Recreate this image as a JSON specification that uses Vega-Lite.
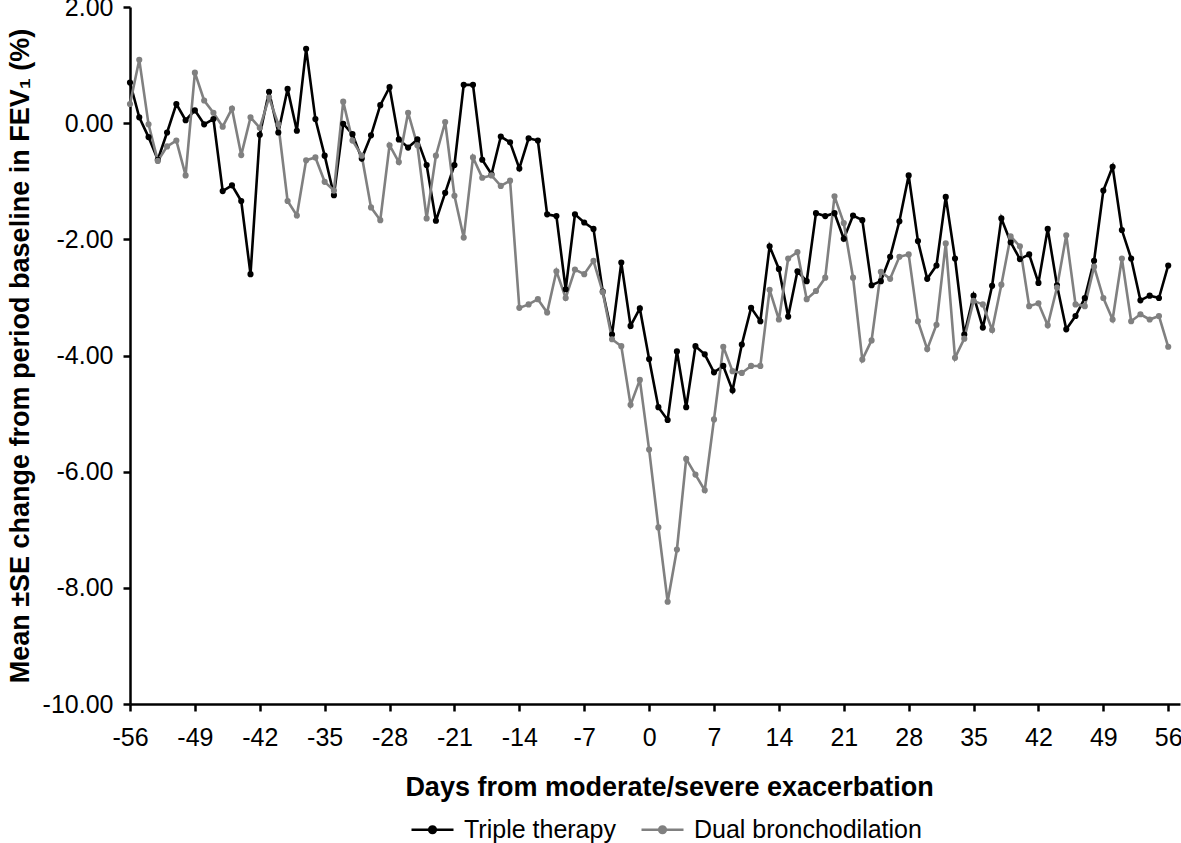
{
  "$schema": "https://vega.github.io/schema/vega-lite/v6.json",
  "width": 1050,
  "height": 697,
  "autosize": "none",
  "padding": {"left": 130, "top": 7, "right": 1, "bottom": 139},
  "background": "white",
  "data": {
    "values": [
      {"day": -56, "Triple therapy": 0.70, "Dual bronchodilation": 0.33},
      {"day": -55, "Triple therapy": 0.10, "Dual bronchodilation": 1.09},
      {"day": -54, "Triple therapy": -0.24, "Dual bronchodilation": -0.02},
      {"day": -53, "Triple therapy": -0.63, "Dual bronchodilation": -0.65},
      {"day": -52, "Triple therapy": -0.16, "Dual bronchodilation": -0.40},
      {"day": -51, "Triple therapy": 0.33, "Dual bronchodilation": -0.30},
      {"day": -50, "Triple therapy": 0.05, "Dual bronchodilation": -0.90},
      {"day": -49, "Triple therapy": 0.22, "Dual bronchodilation": 0.87},
      {"day": -48, "Triple therapy": -0.02, "Dual bronchodilation": 0.39},
      {"day": -47, "Triple therapy": 0.07, "Dual bronchodilation": 0.18},
      {"day": -46, "Triple therapy": -1.17, "Dual bronchodilation": -0.06},
      {"day": -45, "Triple therapy": -1.07, "Dual bronchodilation": 0.25},
      {"day": -44, "Triple therapy": -1.34, "Dual bronchodilation": -0.55},
      {"day": -43, "Triple therapy": -2.60, "Dual bronchodilation": 0.10},
      {"day": -42, "Triple therapy": -0.20, "Dual bronchodilation": -0.08},
      {"day": -41, "Triple therapy": 0.54, "Dual bronchodilation": 0.44},
      {"day": -40, "Triple therapy": -0.16, "Dual bronchodilation": -0.02},
      {"day": -39, "Triple therapy": 0.59, "Dual bronchodilation": -1.34},
      {"day": -38, "Triple therapy": -0.13, "Dual bronchodilation": -1.59},
      {"day": -37, "Triple therapy": 1.28, "Dual bronchodilation": -0.64},
      {"day": -36, "Triple therapy": 0.07, "Dual bronchodilation": -0.59},
      {"day": -35, "Triple therapy": -0.56, "Dual bronchodilation": -1.01},
      {"day": -34, "Triple therapy": -1.24, "Dual bronchodilation": -1.16},
      {"day": -33, "Triple therapy": -0.01, "Dual bronchodilation": 0.37},
      {"day": -32, "Triple therapy": -0.19, "Dual bronchodilation": -0.30},
      {"day": -31, "Triple therapy": -0.61, "Dual bronchodilation": -0.56},
      {"day": -30, "Triple therapy": -0.21, "Dual bronchodilation": -1.45},
      {"day": -29, "Triple therapy": 0.31, "Dual bronchodilation": -1.67},
      {"day": -28, "Triple therapy": 0.62, "Dual bronchodilation": -0.38},
      {"day": -27, "Triple therapy": -0.28, "Dual bronchodilation": -0.67},
      {"day": -26, "Triple therapy": -0.42, "Dual bronchodilation": 0.18},
      {"day": -25, "Triple therapy": -0.28, "Dual bronchodilation": -0.38},
      {"day": -24, "Triple therapy": -0.72, "Dual bronchodilation": -1.64},
      {"day": -23, "Triple therapy": -1.68, "Dual bronchodilation": -0.56},
      {"day": -22, "Triple therapy": -1.20, "Dual bronchodilation": 0.02},
      {"day": -21, "Triple therapy": -0.72, "Dual bronchodilation": -1.25},
      {"day": -20, "Triple therapy": 0.66, "Dual bronchodilation": -1.97},
      {"day": -19, "Triple therapy": 0.66, "Dual bronchodilation": -0.59},
      {"day": -18, "Triple therapy": -0.63, "Dual bronchodilation": -0.94},
      {"day": -17, "Triple therapy": -0.88, "Dual bronchodilation": -0.90},
      {"day": -16, "Triple therapy": -0.23, "Dual bronchodilation": -1.08},
      {"day": -15, "Triple therapy": -0.33, "Dual bronchodilation": -0.99},
      {"day": -14, "Triple therapy": -0.78, "Dual bronchodilation": -3.18},
      {"day": -13, "Triple therapy": -0.26, "Dual bronchodilation": -3.12},
      {"day": -12, "Triple therapy": -0.30, "Dual bronchodilation": -3.03},
      {"day": -11, "Triple therapy": -1.57, "Dual bronchodilation": -3.26},
      {"day": -10, "Triple therapy": -1.60, "Dual bronchodilation": -2.55},
      {"day": -9, "Triple therapy": -2.86, "Dual bronchodilation": -3.01},
      {"day": -8, "Triple therapy": -1.57, "Dual bronchodilation": -2.52},
      {"day": -7, "Triple therapy": -1.71, "Dual bronchodilation": -2.60},
      {"day": -6, "Triple therapy": -1.82, "Dual bronchodilation": -2.37},
      {"day": -5, "Triple therapy": -2.90, "Dual bronchodilation": -2.91},
      {"day": -4, "Triple therapy": -3.64, "Dual bronchodilation": -3.72},
      {"day": -3, "Triple therapy": -2.40, "Dual bronchodilation": -3.84},
      {"day": -2, "Triple therapy": -3.49, "Dual bronchodilation": -4.85},
      {"day": -1, "Triple therapy": -3.19, "Dual bronchodilation": -4.42},
      {"day": 0, "Triple therapy": -4.06, "Dual bronchodilation": -5.62},
      {"day": 1, "Triple therapy": -4.89, "Dual bronchodilation": -6.96},
      {"day": 2, "Triple therapy": -5.11, "Dual bronchodilation": -8.24},
      {"day": 3, "Triple therapy": -3.93, "Dual bronchodilation": -7.34},
      {"day": 4, "Triple therapy": -4.89, "Dual bronchodilation": -5.78},
      {"day": 5, "Triple therapy": -3.84, "Dual bronchodilation": -6.05},
      {"day": 6, "Triple therapy": -3.98, "Dual bronchodilation": -6.32},
      {"day": 7, "Triple therapy": -4.29, "Dual bronchodilation": -5.10},
      {"day": 8, "Triple therapy": -4.18, "Dual bronchodilation": -3.85},
      {"day": 9, "Triple therapy": -4.60, "Dual bronchodilation": -4.27},
      {"day": 10, "Triple therapy": -3.81, "Dual bronchodilation": -4.30},
      {"day": 11, "Triple therapy": -3.18, "Dual bronchodilation": -4.18},
      {"day": 12, "Triple therapy": -3.41, "Dual bronchodilation": -4.18},
      {"day": 13, "Triple therapy": -2.12, "Dual bronchodilation": -2.87},
      {"day": 14, "Triple therapy": -2.51, "Dual bronchodilation": -3.38},
      {"day": 15, "Triple therapy": -3.33, "Dual bronchodilation": -2.33},
      {"day": 16, "Triple therapy": -2.55, "Dual bronchodilation": -2.22},
      {"day": 17, "Triple therapy": -2.72, "Dual bronchodilation": -3.03},
      {"day": 18, "Triple therapy": -1.55, "Dual bronchodilation": -2.89},
      {"day": 19, "Triple therapy": -1.60, "Dual bronchodilation": -2.66},
      {"day": 20, "Triple therapy": -1.55, "Dual bronchodilation": -1.26},
      {"day": 21, "Triple therapy": -1.99, "Dual bronchodilation": -1.72},
      {"day": 22, "Triple therapy": -1.59, "Dual bronchodilation": -2.66},
      {"day": 23, "Triple therapy": -1.67, "Dual bronchodilation": -4.07},
      {"day": 24, "Triple therapy": -2.79, "Dual bronchodilation": -3.74},
      {"day": 25, "Triple therapy": -2.72, "Dual bronchodilation": -2.56},
      {"day": 26, "Triple therapy": -2.30, "Dual bronchodilation": -2.68},
      {"day": 27, "Triple therapy": -1.69, "Dual bronchodilation": -2.30},
      {"day": 28, "Triple therapy": -0.90, "Dual bronchodilation": -2.26},
      {"day": 29, "Triple therapy": -2.03, "Dual bronchodilation": -3.41},
      {"day": 30, "Triple therapy": -2.68, "Dual bronchodilation": -3.89},
      {"day": 31, "Triple therapy": -2.45, "Dual bronchodilation": -3.47},
      {"day": 32, "Triple therapy": -1.27, "Dual bronchodilation": -2.07},
      {"day": 33, "Triple therapy": -2.33, "Dual bronchodilation": -4.04},
      {"day": 34, "Triple therapy": -3.64, "Dual bronchodilation": -3.71},
      {"day": 35, "Triple therapy": -2.97, "Dual bronchodilation": -3.06},
      {"day": 36, "Triple therapy": -3.52, "Dual bronchodilation": -3.12},
      {"day": 37, "Triple therapy": -2.80, "Dual bronchodilation": -3.56},
      {"day": 38, "Triple therapy": -1.64, "Dual bronchodilation": -2.78},
      {"day": 39, "Triple therapy": -2.05, "Dual bronchodilation": -1.95},
      {"day": 40, "Triple therapy": -2.34, "Dual bronchodilation": -2.12},
      {"day": 41, "Triple therapy": -2.26, "Dual bronchodilation": -3.15},
      {"day": 42, "Triple therapy": -2.75, "Dual bronchodilation": -3.10},
      {"day": 43, "Triple therapy": -1.82, "Dual bronchodilation": -3.48},
      {"day": 44, "Triple therapy": -2.79, "Dual bronchodilation": -2.83},
      {"day": 45, "Triple therapy": -3.55, "Dual bronchodilation": -1.93},
      {"day": 46, "Triple therapy": -3.32, "Dual bronchodilation": -3.12},
      {"day": 47, "Triple therapy": -3.01, "Dual bronchodilation": -3.15},
      {"day": 48, "Triple therapy": -2.37, "Dual bronchodilation": -2.47},
      {"day": 49, "Triple therapy": -1.16, "Dual bronchodilation": -3.01},
      {"day": 50, "Triple therapy": -0.75, "Dual bronchodilation": -3.38},
      {"day": 51, "Triple therapy": -1.84, "Dual bronchodilation": -2.33},
      {"day": 52, "Triple therapy": -2.33, "Dual bronchodilation": -3.41},
      {"day": 53, "Triple therapy": -3.05, "Dual bronchodilation": -3.29},
      {"day": 54, "Triple therapy": -2.97, "Dual bronchodilation": -3.38},
      {"day": 55, "Triple therapy": -3.01, "Dual bronchodilation": -3.32},
      {"day": 56, "Triple therapy": -2.45, "Dual bronchodilation": -3.85}
    ]
  },
  "transform": [
    {"fold": ["Triple therapy", "Dual bronchodilation"], "as": ["series", "value"]}
  ],
  "mark": {
    "type": "line",
    "strokeWidth": 2.6,
    "point": {"filled": true, "size": 38}
  },
  "encoding": {
    "x": {
      "field": "day",
      "type": "quantitative",
      "scale": {"domain": [-56, 57.27], "nice": false, "zero": false},
      "axis": {
        "title": "Days from moderate/severe exacerbation",
        "values": [-56, -49, -42, -35, -28, -21, -14, -7, 0, 7, 14, 21, 28, 35, 42, 49, 56],
        "format": "d",
        "labelExpr": "replace(datum.label, '−', '-')",
        "labelPadding": 14,
        "labelFlush": false,
        "titleX": 539,
        "titleY": 91,
        "titleAnchor": "start",
        "titleAlign": "center",
        "titleBaseline": "alphabetic"
      }
    },
    "y": {
      "field": "value",
      "type": "quantitative",
      "scale": {"domain": [-10, 2], "nice": false, "zero": false},
      "axis": {
        "title": "Mean ±SE change from period baseline in FEV₁ (%)",
        "values": [-10, -8, -6, -4, -2, 0, 2],
        "format": ".2f",
        "labelExpr": "replace(datum.label, '−', '-')",
        "labelPadding": 10,
        "labelFlush": false,
        "titlePadding": 8
      }
    },
    "color": {
      "field": "series",
      "type": "nominal",
      "scale": {
        "domain": ["Triple therapy", "Dual bronchodilation"],
        "range": ["#000000", "#808080"]
      },
      "legend": {
        "title": null,
        "orient": "none",
        "direction": "horizontal",
        "legendX": 280,
        "legendY": 800,
        "padding": 0,
        "symbolType": "M-1,0H1M-0.16,0A0.16,0.16,0,1,0,0.16,0A0.16,0.16,0,1,0,-0.16,0Z",
        "symbolSize": 1764,
        "symbolStrokeWidth": 2.5,
        "labelFont": "Liberation Sans",
        "labelFontSize": 25,
        "labelColor": "#000",
        "labelOffset": 9,
        "columnPadding": 20,
        "labelLimit": 400
      }
    },
    "order": {"field": "day", "type": "quantitative"}
  },
  "config": {
    "view": {"stroke": null},
    "axis": {
      "grid": false,
      "domainColor": "#000",
      "domainWidth": 2.5,
      "tickColor": "#000",
      "tickWidth": 2.5,
      "tickSize": 7,
      "labelColor": "#000",
      "titleColor": "#000",
      "labelFont": "Liberation Sans",
      "titleFont": "Liberation Sans",
      "labelFontSize": 25,
      "titleFontSize": 27,
      "titleFontWeight": "bold"
    }
  }
}
